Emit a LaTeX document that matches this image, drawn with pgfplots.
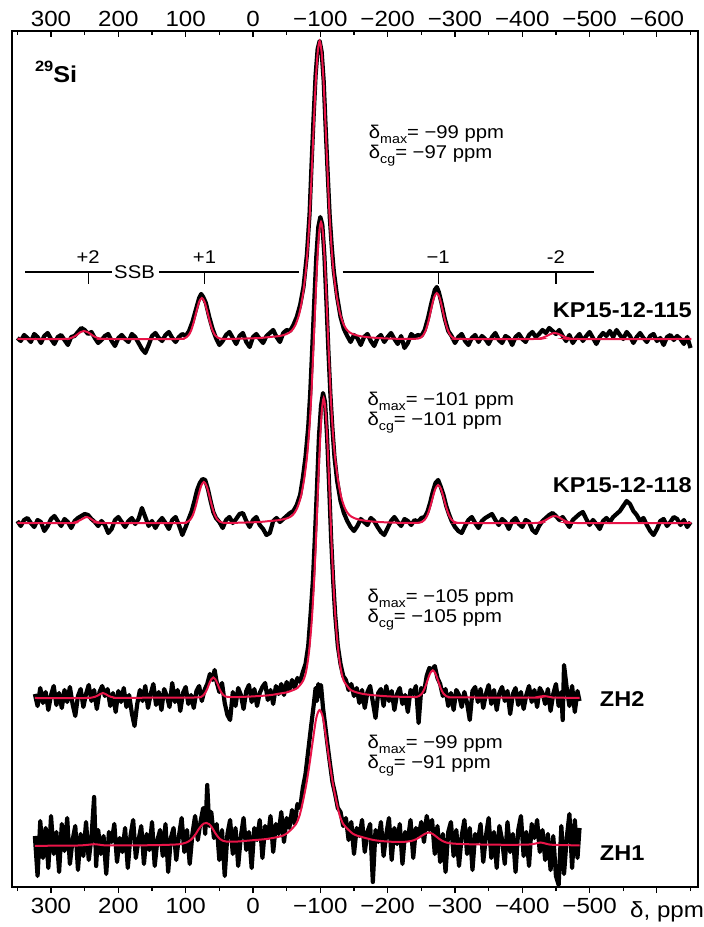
\documentclass[border=0pt]{standalone}
\usepackage{fontspec}
\setmainfont{Liberation Sans}[FakeStretch=1.1]
\usepackage{pgfplots}
\usepackage{pgfplotstable}
\pgfplotsset{compat=1.18}
\definecolor{fitred}{RGB}{232,20,72}

% values in px above each spectrum's baseline
\pgfplotstableread{
x y
350 1
345 -2
340 4
335 1
330 -3
325 5
320 2
315 -4
310 3
305 6
300 0
295 -5
290 2
285 4
280 -1
275 -6
270 2
265 3
260 7
255 11
250 9
245 5
240 7
235 1
230 -4
225 -1
220 3
215 5
210 -2
205 -7
200 1
195 4
190 0
185 -3
180 5
175 2
170 -4
165 -10
160 -14
155 -6
150 3
145 6
140 1
135 -2
130 4
125 7
120 1
115 -3
110 2
105 5
100 3
95 8
90 17
85 29
80 41
77 45
74 42
70 36
65 22
60 10
55 1
50 -6
45 -2
40 4
35 7
30 1
25 -5
20 3
15 6
10 -3
5 -8
0 2
-5 5
-10 0
-15 -4
-20 3
-25 6
-30 9
-35 2
-40 -3
-45 6
-50 9
-55 8
-60 14
-65 22
-70 34
-75 52
-80 84
-84 125
-87 175
-90 222
-93 264
-96 290
-99 298
-102 287
-105 258
-108 210
-111 165
-114 122
-117 92
-120 68
-125 42
-130 22
-135 10
-140 3
-145 -3
-150 4
-155 1
-160 -6
-165 2
-170 5
-175 -2
-180 -7
-185 1
-190 4
-195 -3
-200 2
-205 6
-210 0
-215 -5
-220 3
-225 -9
-230 -4
-235 5
-240 2
-245 4
-250 3
-255 9
-260 21
-265 36
-270 49
-273 52
-276 47
-280 36
-285 20
-290 8
-295 3
-300 -4
-305 2
-310 5
-315 -2
-320 -6
-325 1
-330 4
-335 -3
-340 3
-345 0
-350 -5
-355 2
-360 6
-365 -1
-370 -4
-375 3
-380 1
-385 -6
-390 2
-395 5
-400 0
-405 -3
-410 4
-415 7
-420 2
-425 5
-430 9
-435 6
-440 11
-445 8
-450 5
-455 9
-460 3
-465 -2
-470 4
-475 -4
-480 1
-485 5
-490 -2
-495 3
-500 7
-505 1
-510 -5
-515 2
-520 6
-525 3
-530 8
-535 2
-540 9
-545 4
-550 0
-555 7
-560 3
-565 -4
-570 2
-575 6
-580 1
-585 -3
-590 3
-595 5
-600 -2
-605 1
-610 -6
-615 2
-620 4
-625 -1
-630 3
-635 0
-640 -5
-645 2
-650 -9
}\sOneBlack

\pgfplotstableread{
x y
350 0
280 0
272 0.6
268 1.6
264 3.0
260 5.0
256 7.0
251 8
246 7.0
242 5.4
238 3.4
234 1.9
230 0.9
224 0.2
215 0
110 0
104 0.3
100 1.2
96 3.5
92 8.4
88 16.9
84 27.6
80 37.1
76 41
72 37.1
68 27.6
64 16.9
60 8.4
56 3.5
52 1.2
48 0.3
40 0
10 0.5
-10 1
-25 2
-40 3
-50 5
-57 8
-63 14
-69 26
-74 44
-78 65
-81 88
-84 120
-87 163
-90 210
-93 255
-96 286
-99 298
-102 286
-105 255
-108 210
-111 163
-114 120
-117 88
-120 65
-124 44
-129 26
-135 14
-141 8
-148 5
-158 3
-175 1.5
-200 0.5
-230 0
-245 0.4
-249 1.3
-253 3.9
-257 9.5
-261 18.9
-265 31
-269 41.7
-273 46
-277 41.7
-281 31
-285 18.9
-289 9.5
-293 3.9
-297 1.3
-301 0.4
-310 0
-420 0
-425 0.4
-430 1.2
-435 2.6
-440 4.3
-444 5.5
-448 6
-452 5.5
-456 4.3
-461 2.6
-466 1.2
-471 0.4
-478 0
-651 0
}\sOneFit

\pgfplotstableread{
x y
350 2
345 -3
340 3
335 5
330 0
325 -4
320 3
315 1
310 -8
305 -3
300 4
295 7
290 2
285 -3
280 4
275 1
270 -5
265 2
260 5
255 7
250 9
245 8
240 4
235 1
230 -3
225 2
220 -2
215 -10
210 -6
205 3
200 6
195 1
190 -4
185 2
180 5
175 -1
170 4
165 15
160 6
155 -3
150 2
145 -5
140 1
135 5
130 0
125 -6
120 3
115 6
110 -2
105 -12
100 -4
95 5
91 12
87 22
83 33
79 40
75 44
71 43
67 34
63 22
59 11
55 5
50 1
45 -5
40 3
35 6
30 0
25 4
20 9
15 10
10 2
5 -4
0 3
-5 6
-10 -2
-15 -6
-20 -12
-25 -10
-30 2
-35 5
-40 1
-45 4
-50 7
-55 10
-60 12
-65 18
-70 28
-74 45
-78 66
-82 96
-85 130
-88 175
-91 222
-94 266
-97 296
-100 306
-103 298
-106 268
-109 222
-112 172
-115 128
-118 94
-121 66
-125 42
-130 22
-135 10
-140 2
-145 -4
-150 -8
-155 -3
-160 4
-165 1
-170 -2
-175 5
-180 2
-185 -4
-190 -9
-195 -12
-200 -5
-205 2
-210 6
-215 1
-220 -3
-225 4
-230 2
-235 -2
-240 3
-245 1
-250 5
-255 6
-259 11
-263 20
-267 31
-271 40
-275 43
-279 36
-283 28
-287 17
-291 9
-295 2
-300 -4
-305 -8
-310 -10
-315 -3
-320 3
-325 6
-330 0
-335 -5
-340 2
-345 5
-350 7
-355 9
-360 3
-365 -2
-370 4
-375 1
-380 -6
-385 2
-390 5
-395 -1
-400 -4
-405 3
-410 1
-415 -7
-420 -10
-425 -3
-430 2
-435 5
-440 8
-445 10
-450 7
-455 3
-460 6
-465 1
-470 -4
-475 3
-480 6
-485 9
-490 11
-495 4
-500 -2
-505 3
-510 -1
-515 -6
-520 2
-525 5
-530 1
-535 6
-540 9
-545 12
-550 17
-555 22
-560 19
-565 12
-570 8
-575 2
-580 5
-585 -2
-590 -8
-595 -12
-600 -6
-605 2
-610 4
-615 -3
-620 1
-625 6
-630 4
-635 -2
-640 3
-645 -4
-650 1
}\sTwoBlack

\pgfplotstableread{
x y
350 0
270 0
265 0.6
261 1.4
257 2.8
252 4.6
247 6
242 4.6
238 2.8
234 1.4
229 0.6
222 0
107 0
101 0.3
97 1.2
93 3.5
89 8.4
85 16.9
81 27.6
77 37.1
73 41
69 37.1
65 27.6
61 16.9
57 8.4
53 3.5
49 1.2
45 0.3
37 0
10 0.5
-10 1
-25 2
-40 3
-52 5
-59 8
-65 14
-71 26
-76 44
-80 65
-83 88
-86 120
-89 164
-92 211
-95 257
-98 289
-101 301
-104 289
-107 257
-110 211
-113 164
-116 120
-119 88
-122 65
-126 44
-131 26
-137 14
-143 8
-150 5
-160 3
-177 1.5
-202 0.5
-232 0
-247 0.3
-251 1.1
-255 3.2
-259 7.8
-263 15.6
-267 25.6
-271 34.4
-275 38
-279 34.4
-283 25.6
-287 15.6
-291 7.8
-295 3.2
-299 1.1
-303 0.3
-312 0
-420 0
-425 0.5
-430 1.4
-435 3.0
-440 5.0
-444 6.4
-448 7
-452 6.4
-456 5.0
-461 3.0
-466 1.4
-471 0.5
-478 0
-651 0
}\sTwoFit

\pgfplotstableread{
x y
324 4
320 -8
316 10
312 -5
308 6
304 -12
300 3
296 12
292 -7
288 5
284 -10
280 8
276 -4
272 11
268 -6
264 -18
260 2
256 9
252 -9
248 4
244 13
240 -3
236 8
232 -11
228 6
224 12
220 2
216 9
212 -8
208 5
204 -14
200 7
196 -4
192 10
188 -9
184 3
180 -15
176 -28
172 -6
168 8
164 -3
160 12
156 -10
152 4
148 14
144 -7
140 6
136 -12
132 9
128 2
124 -9
120 15
116 -4
112 8
108 -13
104 5
100 11
96 -6
92 3
88 -10
84 7
80 12
76 -3
72 8
68 14
64 24
60 18
57 28
54 16
50 6
46 15
42 -5
38 -17
34 -22
30 6
26 -8
22 10
18 3
14 -11
10 7
6 13
2 -4
-2 9
-6 -8
-10 5
-14 11
-18 15
-22 -2
-26 8
-30 -6
-34 12
-38 4
-42 14
-46 3
-50 16
-54 8
-58 18
-62 10
-66 20
-70 16
-74 26
-78 34
-82 52
-86 88
-89 118
-92 162
-95 210
-98 262
-101 292
-104 305
-107 296
-110 262
-113 214
-116 160
-119 118
-122 84
-126 52
-130 34
-134 22
-138 18
-142 8
-146 14
-150 2
-154 10
-158 -5
-162 8
-166 -10
-170 6
-174 12
-178 -4
-182 -20
-186 5
-190 9
-194 -8
-198 12
-202 -3
-206 7
-210 -12
-214 4
-218 10
-222 -6
-226 3
-230 -14
-234 8
-238 4
-242 12
-246 -25
-250 10
-254 6
-258 22
-262 30
-266 28
-270 32
-274 20
-278 14
-282 2
-286 9
-290 -8
-294 5
-298 -12
-302 8
-306 3
-310 -9
-314 6
-318 -5
-322 -22
-326 7
-330 11
-334 -4
-338 9
-342 -10
-346 4
-350 13
-354 -6
-358 8
-362 -12
-366 5
-370 11
-374 -3
-378 7
-382 -16
-386 4
-390 10
-394 -7
-398 6
-402 -11
-406 3
-410 12
-414 -4
-418 8
-422 -9
-426 10
-430 5
-434 -6
-438 9
-442 -13
-446 4
-450 14
-454 -8
-458 6
-460 -22
-462 33
-466 10
-470 -8
-474 12
-478 -14
-482 7
-485 -3
}\sThreeBlack

\pgfplotstableread{
x y
324 0
250 0
240 0.4
235 1.1
231 2.3
227 3.9
223 5
219 3.9
215 2.3
211 1.1
206 0.4
200 0.2
100 0.4
80 0.7
77 1.2
74 2.5
71 5.1
68 9.2
65 14.4
62 18.7
59 20.5
56 18.8
53 14.7
50 9.5
47 5.4
44 2.9
41 1.5
36 1.0
20 1.0
0 1.6
-20 2.5
-30 3.3
-40 4.5
-50 5.6
-60 8
-66 10
-70 13
-75 18
-79 27
-83 45
-87 75
-90 108
-93 150
-96 201
-99 249
-102 285
-105 300
-108 285
-111 249
-114 201
-117 150
-120 108
-123 75
-127 45
-131 27
-135 17
-140 12
-145 8
-155 5.4
-165 3.9
-180 2.7
-205 1.5
-235 1.0
-243 1.1
-247 2.0
-251 4.5
-255 9.6
-259 17.2
-263 24.5
-267 27.7
-271 24.4
-275 17.1
-279 9.4
-283 4.3
-287 1.8
-291 0.9
-300 0.6
-415 0.3
-420 0.6
-426 1.4
-432 2
-438 1.4
-444 0.6
-450 0.3
-485 0.2
}\sThreeFit

\pgfplotstableread{
x y
324 10
320 -30
316 25
312 -12
308 18
304 -22
300 30
296 -8
292 14
288 -26
284 22
280 -5
276 28
272 -18
268 6
264 20
260 -24
256 12
252 -10
248 24
244 -14
240 8
236 49
233 -20
230 16
226 -8
222 10
218 -28
214 14
210 4
206 22
202 -16
198 8
194 -6
190 18
186 -22
182 10
178 26
174 -12
170 6
166 20
162 -18
158 12
154 -4
150 24
146 -20
142 6
138 16
134 -10
130 22
126 -26
122 8
118 18
114 -14
110 10
106 28
102 -6
98 16
94 -18
90 12
86 30
82 6
78 24
74 38
71 12
68 61
65 20
62 34
58 8
54 22
50 -14
46 16
42 -30
38 12
34 26
30 -8
26 18
22 -20
18 10
14 28
10 -4
6 14
2 -22
-2 18
-6 6
-10 26
-14 -12
-18 20
-22 8
-26 30
-30 -6
-34 22
-38 12
-42 34
-46 4
-50 28
-54 18
-58 36
-62 22
-66 42
-70 38
-74 58
-78 72
-82 95
-86 118
-90 140
-93 158
-95 145
-97 162
-99 150
-101 161
-104 138
-107 122
-110 105
-114 84
-118 64
-122 52
-126 38
-130 34
-134 20
-138 28
-142 6
-146 24
-150 -8
-154 18
-158 10
-162 26
-166 -6
-170 14
-174 22
-178 -36
-182 16
-186 4
-190 24
-194 -10
-198 12
-202 28
-206 -14
-210 18
-214 2
-218 22
-222 -18
-226 14
-230 6
-234 26
-238 -12
-242 18
-246 10
-250 24
-254 4
-258 30
-262 16
-266 26
-270 -8
-274 20
-278 -16
-282 12
-286 -26
-290 14
-294 24
-298 -10
-302 16
-306 -20
-310 10
-314 26
-318 -8
-322 18
-326 -24
-330 12
-334 4
-338 22
-342 -16
-346 10
-350 28
-354 -12
-358 14
-362 -22
-366 20
-370 6
-374 -18
-378 24
-382 -6
-386 12
-390 -26
-394 16
-398 30
-402 -10
-406 14
-410 -20
-414 22
-418 8
-422 26
-426 -6
-430 16
-434 -14
-438 12
-442 -24
-446 10
-450 -30
-454 -39
-458 20
-462 -28
-466 8
-470 32
-474 -22
-478 26
-482 -12
-485 18
}\sFourBlack

\pgfplotstableread{
x y
324 0
300 0.3
260 0.5
245 1.2
236 1.8
227 1.2
215 0.6
150 0.8
115 1.5
105 2.3
99 3.5
93 5.8
89 8.5
85 12
81 16.5
77 20
73 22.5
69 23
65 21.8
61 18.5
57 14
53 10
49 7
45 5.3
40 4.5
30 4.3
20 4.6
10 5.2
0 5.8
-20 7
-40 9.5
-49 12
-59 18
-64 22
-69 30
-74 44
-79 61
-84 82
-89 106
-94 128
-99 136
-104 128
-109 106
-114 82
-119 61
-124 44
-129 30
-134 22
-139 18
-149 12
-159 9.5
-179 6
-199 4.5
-220 4
-235 5
-243 7
-249 9.5
-255 12
-261 13.5
-267 12
-273 9
-279 6
-287 3.5
-300 2.3
-330 1.6
-380 1.2
-410 1.5
-420 2.5
-427 3.5
-434 2.5
-445 1.2
-485 0.6
}\sFourFit

\newcommand{\tfont}{\fontsize{22}{24}\selectfont}
\newcommand{\afont}{\fontsize{18.5}{20}\selectfont}
\newcommand{\bfont}{\fontsize{21.5}{24}\selectfont\bfseries}
\newcommand{\sub}[1]{\raisebox{-0.28em}{\fontsize{13}{13}\selectfont #1}}

\begin{document}
\begin{tikzpicture}
\begin{axis}[
    scale only axis, width=686bp, height=856bp,
    x dir=reverse, xmin=-661, xmax=358, ymin=0, ymax=856,
    ytick=\empty,
    xtick={300,200,...,-600},
    xticklabels={300,200,100,0,−100,−200,−300,−400,−500,{}},
    minor xtick={350,250,...,-650},
    xtick pos=left, xticklabel pos=left,
    tick align=outside,
    major tick length=6bp, minor tick length=4bp,
    axis line style={line width=1.3bp},
    tick style={line width=1.1bp, black},
    x tick label style={font=\tfont, yshift=-2bp},
    /pgf/number format/assume math mode=true,
]
\coordinate (bl) at (rel axis cs:0,0);
\coordinate (tr) at (rel axis cs:1,1);

\addplot[black, line width=4.2bp, line join=round] table[x=x, y expr=\thisrow{y}+548] {\sOneBlack};
\addplot[black, line width=4.2bp, line join=round] table[x=x, y expr=\thisrow{y}+364] {\sTwoBlack};
\addplot[black, line width=4.2bp, line join=round] table[x=x, y expr=\thisrow{y}+189] {\sThreeBlack};
\addplot[black, line width=4.2bp, line join=round] table[x=x, y expr=\thisrow{y}+41] {\sFourBlack};

\addplot[fitred, line width=2bp, smooth] table[x=x, y expr=\thisrow{y}+548] {\sOneFit};
\addplot[fitred, line width=2bp, smooth] table[x=x, y expr=\thisrow{y}+364] {\sTwoFit};
\addplot[fitred, line width=2bp, smooth] table[x=x, y expr=\thisrow{y}+189] {\sThreeFit};
\addplot[fitred, line width=2bp, smooth] table[x=x, y expr=\thisrow{y}+41] {\sFourFit};

% SSB marker line
\draw[line width=1.1bp] (axis cs:338,615) -- (axis cs:210,615);
\draw[line width=1.1bp] (axis cs:139,615) -- (axis cs:-69,615);
\draw[line width=1.1bp] (axis cs:-133,615) -- (axis cs:-506,615);
\draw[line width=1.1bp] (axis cs:245,615) -- (axis cs:245,603);
\draw[line width=1.1bp] (axis cs:72,615) -- (axis cs:72,603);
\draw[line width=1.1bp] (axis cs:-275,615) -- (axis cs:-275,603);
\draw[line width=1.1bp] (axis cs:-450,615) -- (axis cs:-450,603);
\node[font=\afont] at (axis cs:176,615) {SSB};
\node[font=\afont] at (axis cs:245,630) {+2};
\node[font=\afont] at (axis cs:72,630) {+1};
\node[font=\afont] at (axis cs:-275,630) {−1};
\node[font=\afont] at (axis cs:-450,630) {-2};

\node[anchor=west, font=\fontsize{23}{26}\selectfont\bfseries, inner sep=0pt] at (axis cs:324,815)
  {\raisebox{0.5em}{\fontsize{15}{15}\selectfont 29}Si};

\node[anchor=west, align=left, font=\afont] at (axis cs:-167,741)
  {δ\sub{max}= −99 ppm\\δ\sub{cg}= −97 ppm};
\node[anchor=west, align=left, font=\afont] at (axis cs:-165,474)
  {δ\sub{max}= −101 ppm\\δ\sub{cg}= −101 ppm};
\node[anchor=west, align=left, font=\afont] at (axis cs:-165,277)
  {δ\sub{max}= −105 ppm\\δ\sub{cg}= −105 ppm};
\node[anchor=west, align=left, font=\afont] at (axis cs:-165,131)
  {δ\sub{max}= −99 ppm\\δ\sub{cg}= −91 ppm};

\node[anchor=east, font=\bfont, inner sep=0pt] at (axis cs:-652,577) {KP15-12-115};
\node[anchor=east, font=\bfont, inner sep=0pt] at (axis cs:-652,402) {KP15-12-118};
\node[anchor=west, font=\bfont, inner sep=0pt] at (axis cs:-515,188) {ZH2};
\node[anchor=west, font=\bfont, inner sep=0pt] at (axis cs:-515,34) {ZH1};
\end{axis}

\begin{axis}[
    scale only axis, width=686bp, height=856bp,
    x dir=reverse, xmin=-661, xmax=358, ymin=0, ymax=856,
    axis x line*=top, axis y line=none,
    xtick={300,200,...,-600},
    xticklabels={300,200,100,0,−100,−200,−300,−400,−500,−600},
    minor xtick={350,250,...,-650},
    xtick pos=right, xticklabel pos=right,
    tick align=inside,
    major tick length=6bp, minor tick length=4bp,
    axis line style={line width=1.3bp},
    tick style={line width=1.1bp, black},
    x tick label style={font=\tfont, yshift=1bp},
    /pgf/number format/assume math mode=true,
]
\end{axis}

\node[anchor=west, font=\tfont, inner sep=0pt] at ([shift={(618bp,-25bp)}]bl) {δ, ppm};
\path ([shift={(-12bp,-40bp)}]bl) rectangle ([shift={(4bp,31bp)}]tr);
\end{tikzpicture}
\end{document}
